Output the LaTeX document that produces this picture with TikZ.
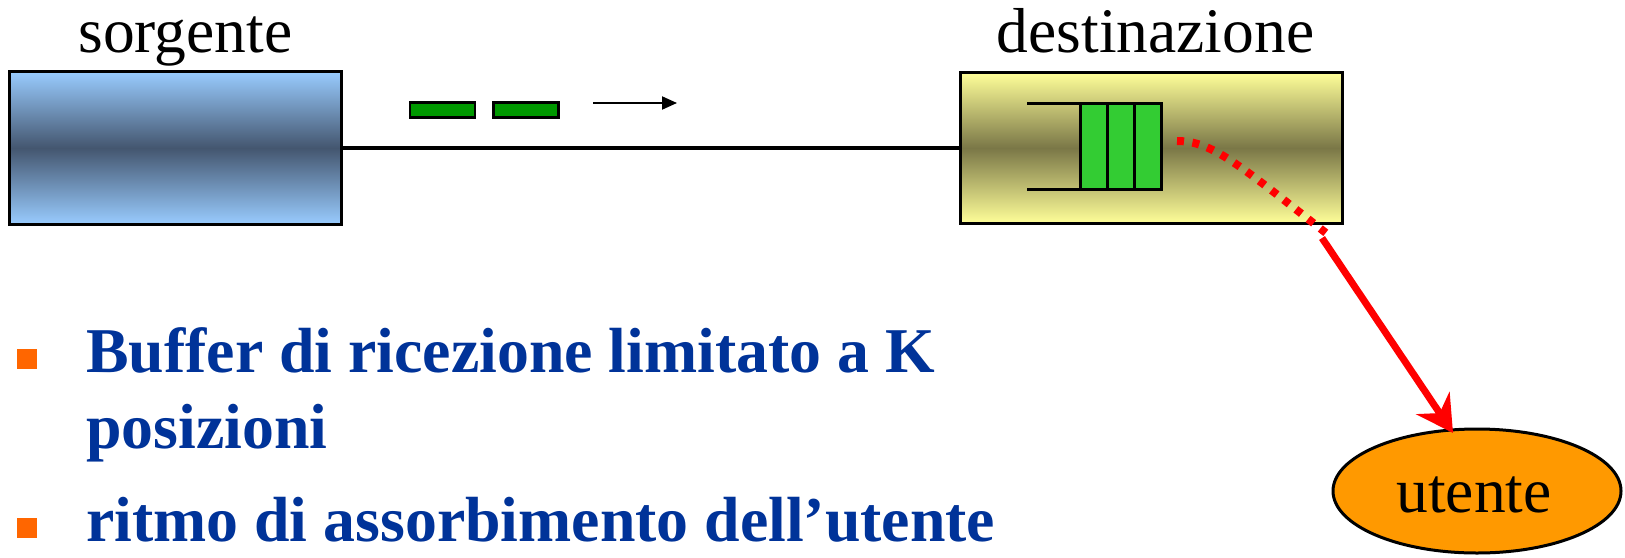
\documentclass[tikz,border=0pt]{standalone}
\usepackage{fontspec}
\setmainfont{Liberation Serif}
\usetikzlibrary{arrows.meta,shapes.geometric}
\definecolor{srclight}{HTML}{99CCFF}
\definecolor{srcdark}{HTML}{44566F}
\definecolor{dstlight}{HTML}{FFFF99}
\definecolor{dstdark}{HTML}{7A7747}
\definecolor{pktgreen}{HTML}{009900}
\definecolor{qgreen}{HTML}{33CC33}
\definecolor{userorange}{HTML}{FF9900}
\definecolor{txtblue}{HTML}{003399}
\definecolor{bulletorange}{HTML}{FF6600}
\begin{document}
\begin{tikzpicture}[x=1pt,y=-1pt,
  bigfont/.style={font=\fontsize{63.5}{76}\selectfont},
  boldblue/.style={font=\fontsize{63.8}{76}\selectfont\bfseries, text=txtblue, inner sep=0pt, anchor=base west},
  label/.style={bigfont, inner sep=0pt, anchor=base},
  srcbox/.style={draw=black, line width=3pt, inner sep=0pt, top color=srclight, bottom color=srclight, middle color=srcdark},
  dstbox/.style={draw=black, line width=3pt, inner sep=0pt, top color=dstlight, bottom color=dstlight, middle color=dstdark},
  packet/.style={draw=black, line width=2.5pt, fill=pktgreen, inner sep=0pt, minimum width=65pt, minimum height=15pt},
  qcell/.style={draw=black, line width=3pt, fill=qgreen, inner sep=0pt, outer sep=0pt, minimum width=27pt, minimum height=86pt},
  bulletsq/.style={fill=bulletorange, inner sep=0pt, minimum width=20pt, minimum height=20pt},
]
\useasboundingbox (0,0) rectangle (1625,557);
\fill[white] (0,0) rectangle (1625,557);

% labels
\node[label] (lsrc) at (185.5,52) {sorgente};
\node[label] (ldst) at (1155.5,52) {destinazione};

% boxes
\node[srcbox, minimum width=332pt, minimum height=153pt] (src) at (175,148) {};
\node[dstbox, minimum width=382pt, minimum height=151pt] (dst) at (1151.5,148) {};

% link
\draw[line width=4.5pt] (src.east) -- (dst.west);

% packets and direction arrow
\node[packet] (p1) at (442.5,110) {};
\node[packet] (p2) at (526,110) {};
\coordinate (da) at (593,103);
\coordinate (db) at (677,103);
\draw[line width=2pt, -{Triangle[length=15pt,width=13pt]}] (da) -- (db);

% queue
\node[qcell] (q1) at (1093.5,146) {};
\node[qcell] (q2) at (1120.5,146) {};
\node[qcell] (q3) at (1147.5,146) {};
\coordinate (qa) at (1027,103);
\coordinate (qb) at (1027,189);
\draw[line width=3pt] (qa) -- (q1.north west);
\draw[line width=3pt] (qb) -- (q1.south west);

% dotted departure curve
\coordinate (c0) at (1177,141);
\coordinate (c1) at (1326,233);
\draw[red, line width=8pt, dash pattern=on 7pt off 8.5pt]
  (c0) .. controls (1212,141) and (1238,164) .. (c1);

% user
\node[ellipse, draw=black, line width=3pt, fill=userorange, minimum width=288pt, minimum height=124pt, inner sep=0pt] (user) at (1477,491) {};
\node[label] (userlbl) at (1474,512) {utente};
\coordinate (a0) at (1322,238);
\draw[red, line width=7pt, -{Stealth[length=36pt,width=40pt,inset=12pt]}] (a0) -- (1453,433);

% bullets
\node[bulletsq] (b1) at (26.5,358.5) {};
\node[bulletsq] (b2) at (26.5,527.5) {};
\node[boldblue] (t1) at (86,372) {Buffer di ricezione limitato a K};
\node[boldblue] (t2) at (86,448) {posizioni};
\node[boldblue] (t3) at (86,541) {ritmo di assorbimento dell’utente};
\end{tikzpicture}
\end{document}
